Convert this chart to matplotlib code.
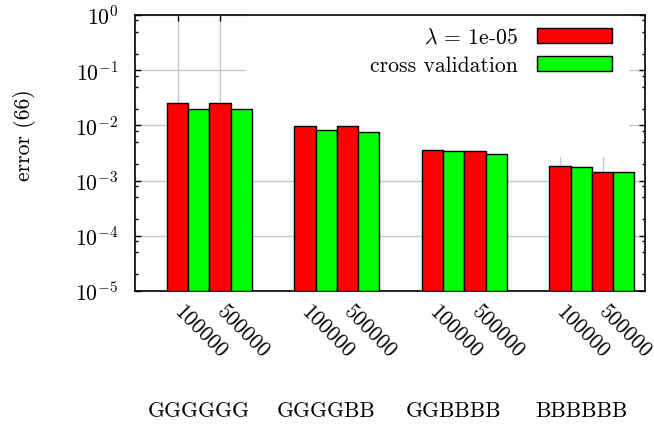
import matplotlib
matplotlib.use("Agg")
import matplotlib.pyplot as plt
import matplotlib.ticker as mticker
import matplotlib.transforms as mtransforms
from matplotlib.patches import Patch, Rectangle
import numpy as np

# ---- data ----
categories = ["GGGGGG", "GGGGBB", "GGBBBB", "BBBBBB"]
sizes = ["100000", "500000"]
series_labels = [r"$\lambda$ = 1e-05", "cross validation"]
lambda_err = [[0.0255, 0.0255], [0.0098, 0.0099], [0.00358, 0.00339], [0.00182, 0.00141]]
cv_err = [[0.0200, 0.0195], [0.0081, 0.0075], [0.00348, 0.00299], [0.00174, 0.00141]]
y_label = "error (66)"

FS = 15.6
plt.rcParams["font.family"] = ["cmr10", "DejaVu Serif"]
plt.rcParams["mathtext.fontset"] = "cm"
plt.rcParams["axes.formatter.use_mathtext"] = True
plt.rcParams["axes.unicode_minus"] = False

fig = plt.figure(figsize=(6.54, 4.28), dpi=100)
ax = fig.add_axes([135 / 654, 1 - 291 / 428, 510 / 654, 276 / 428])

colors = ["#ff0000", "#00ff00"]
group_w = len(sizes) * 2 + 2
xticks, xticklabels = [], []
for g in range(len(categories)):
    for s in range(len(sizes)):
        base = g * group_w + 2 * s
        xticks.append(base)
        xticklabels.append(sizes[s])
        for k, vals in enumerate([lambda_err, cv_err]):
            ax.bar(base + k, vals[g][s], width=1.0, bottom=1e-5, color=colors[k],
                   edgecolor="black", linewidth=1.0, zorder=3)

ax.set_yscale("log")
ax.set_ylim(1e-5, 1)
ax.set_xlim(-2, 22)

ax.yaxis.set_major_locator(mticker.LogLocator(base=10, numticks=10))
ax.yaxis.set_minor_locator(mticker.LogLocator(base=10, subs=[2, 5, 8], numticks=10))
ax.yaxis.set_minor_formatter(mticker.NullFormatter())

ax.set_xticks(xticks)
ax.set_xticklabels([])

trans = mtransforms.blended_transform_factory(ax.transData, ax.transAxes)
shift = mtransforms.ScaledTranslation(0.065, -0.11, fig.dpi_scale_trans)
for xt, lab in zip(xticks, xticklabels):
    ax.text(xt, 0, lab, transform=trans + shift, rotation=-45,
            rotation_mode="anchor", ha="left", va="top", fontsize=FS)

ax.tick_params(axis="both", which="major", direction="in", length=4.5, width=1,
               top=True, right=True, labelsize=FS, color="black")
ax.tick_params(axis="y", which="major", pad=12)
ax.tick_params(axis="y", which="minor", direction="in", length=2.3, width=1,
               left=True, right=True)
for sp in ax.spines.values():
    sp.set_linewidth(1.2)

ax.set_axisbelow(True)
ax.grid(True, which="major", color="#c8c8c8", linewidth=1.0, zorder=0)

# opaque key area covering the grid
ax.add_patch(Rectangle((0.218, 0.486), 0.751, 0.514, transform=ax.transAxes,
                       facecolor="white", edgecolor="none", zorder=1))

handles = [Patch(facecolor=c, edgecolor="black", linewidth=1.0) for c in colors]
ax.legend(handles, series_labels, loc="upper right", bbox_to_anchor=(0.936, 0.953),
          frameon=False, markerfirst=False, fontsize=FS, handlelength=3.49,
          handleheight=0.69, handletextpad=0.86, labelspacing=0.39, borderpad=0,
          borderaxespad=0)

for g, cat in enumerate(categories):
    ax.text(g * group_w + 1, -0.4356, cat, transform=trans, ha="center",
            va="center", fontsize=FS)

fig.text(25 / 654, 1 - 135 / 428, y_label, rotation=90, ha="center", va="center",
         fontsize=FS)

fig.savefig("out.png", dpi=100)
